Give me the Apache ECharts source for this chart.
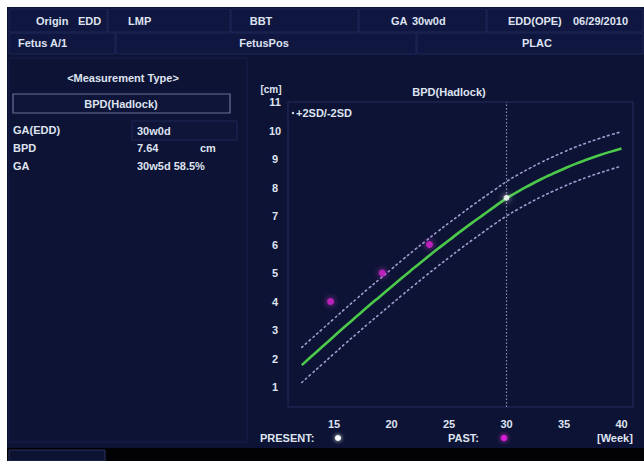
<!DOCTYPE html>
<html>
<head>
<meta charset="utf-8">
<script src="https://cdn.jsdelivr.net/npm/echarts@6/dist/echarts.min.js"></script>
<style>
html,body{margin:0;padding:0;background:#ffffff;}
#chart{width:644px;height:461px;}
</style>
</head>
<body>
<div id="chart"></div>
<script>
// ---- data ----
var weeks = [12.2,13,14,15,16,17,18,19,20,21,22,23,24,25,26,27,28,29,30,31,32,33,34,35,36,37,38,39,40];
var meanBPD = [1.77,2.06,2.42,2.78,3.14,3.49,3.84,4.18,4.52,4.86,5.19,5.52,5.84,6.15,6.46,6.76,7.05,7.34,7.62,7.86,8.08,8.29,8.48,8.66,8.83,8.98,9.12,9.25,9.37];
var plus2SD = [2.39,2.68,3.04,3.4,3.76,4.11,4.46,4.8,5.14,5.48,5.81,6.13,6.45,6.76,7.06,7.36,7.65,7.93,8.21,8.45,8.67,8.88,9.07,9.25,9.42,9.57,9.71,9.84,9.96];
var minus2SD = [1.16,1.45,1.81,2.17,2.53,2.88,3.23,3.57,3.91,4.25,4.58,4.91,5.23,5.54,5.85,6.15,6.44,6.73,7.0,7.24,7.46,7.67,7.86,8.04,8.21,8.36,8.5,8.63,8.75];
var pastWeeks = [14.7,19.2,23.3];
var pastBPD = [4.0,5.0,6.0];
var presentWeek = [30];
var presentBPD = [7.64];
var xTickLabels = [15,20,25,30,35,40];
var yTickLabels = [1,2,3,4,5,6,7,8,9,10,11];

function pairs(xs, ys){ var o=[]; for(var i=0;i<xs.length;i++){o.push([xs[i],ys[i]]);} return o; }

var FONT = 'Liberation Sans, Arial, sans-serif';
var TXT = '#dfe3f0';
var NAVY = '#0c1334';
var CELL = '#0f1740';
var EDGE = '#1f2858';

function txt(x,y,s,align,size){
  return {type:'text', x:x, y:y, silent:true, z:10,
    style:{text:s, fill:TXT, font:'bold '+(size||11)+'px '+FONT, textAlign:align||'left', textVerticalAlign:'middle'}};
}
function rect(x,y,w,h,fill,stroke,lw){
  return {type:'rect', shape:{x:x,y:y,width:w,height:h}, silent:true, z:1,
    style:{fill:fill, stroke:stroke||null, lineWidth:lw||1}};
}

var R1 = 21, R2 = 43;
var graphics = [
  // page frame
  rect(7,7,637,441,NAVY),
  rect(7,448,637,13,'#020205'),
  rect(9,450,96,11,'#0d1230','#2a3060'),
  // header row 1 cells
  rect(9,9,98,23,CELL,EDGE), rect(108,9,122,23,CELL,EDGE), rect(231,9,127,23,CELL,EDGE),
  rect(359,9,127,23,CELL,EDGE), rect(487,9,156,23,CELL,EDGE),
  // header row 2 cells
  rect(9,33,106,21,CELL,EDGE), rect(116,33,300,21,CELL,EDGE), rect(417,33,226,21,CELL,EDGE),
  // left panel
  rect(9,58,238,384,NAVY,'#18204c'),
  rect(13,94,217,19,'#0e1538','#6a7098',1.2),
  rect(132,121,105,19,'#0e1538','#1e2757'),
  // header texts
  txt(36,R1,'Origin'), txt(78,R1,'EDD'), txt(128,R1,'LMP'), txt(261,R1,'BBT','center'),
  txt(391,R1,'GA'), txt(412,R1,'30w0d'), txt(508,R1,'EDD(OPE)'), txt(573,R1,'06/29/2010'),
  txt(18,R2,'Fetus A/1'), txt(264,R2,'FetusPos','center'), txt(537,R2,'PLAC','center'),
  // left panel texts
  txt(123,78,'<Measurement Type>','center'),
  txt(121,103.5,'BPD(Hadlock)','center'),
  txt(13,130,'GA(EDD)'), txt(137,131,'30w0d'),
  txt(13,148,'BPD'), txt(137,148,'7.64'), txt(200,148,'cm'),
  txt(13,166,'GA'), txt(137,166,'30w5d 58.5%'),
  // chart texts
  txt(271,89,'[cm]','center',10),
  txt(449,92,'BPD(Hadlock)','center'),
  {type:'circle', shape:{cx:293,cy:113,r:1.2}, silent:true, z:10, style:{fill:TXT}},
  txt(296,113,'+2SD/-2SD'),
  txt(260,438,'PRESENT:'), txt(448,438,'PAST:'), txt(597,438,'[Week]'),
  {type:'circle', shape:{cx:338,cy:438,r:3}, silent:true, z:10, style:{fill:'#ffffff', shadowBlur:4, shadowColor:'#ffffff'}},
  {type:'circle', shape:{cx:504,cy:438,r:3.2}, silent:true, z:10, style:{fill:'#d61fcf', shadowBlur:5, shadowColor:'#e030e0'}}
];

var chart = echarts.init(document.getElementById('chart'), null, {renderer:'svg'});
chart.setOption({
  backgroundColor:'#ffffff',
  animation:false,
  graphic: {elements: graphics, z: 0, zlevel: 0},
  grid:{left:288, right:11, top:102, bottom:54, show:true, borderColor:'#242c5e', borderWidth:1, backgroundColor:NAVY, z:2},
  xAxis:{type:'value', min:11, max:41, z:20,
    axisLine:{show:false}, axisTick:{show:false}, splitLine:{show:false},
    axisLabel:{customValues:xTickLabels, color:TXT, fontWeight:'bold', fontSize:11, fontFamily:FONT, margin:11}},
  yAxis:{type:'value', min:0.3, max:11, z:20,
    axisLine:{show:false}, axisTick:{show:false}, splitLine:{show:false},
    axisLabel:{customValues:yTickLabels, color:TXT, fontWeight:'bold', fontSize:11, fontFamily:FONT, margin:13, align:'center'}},
  series:[
    {name:'+2SD', type:'line', data:pairs(weeks,plus2SD), smooth:true, symbol:'none', z:3,
      lineStyle:{color:'#a09ed2', width:1.6, type:[1.6,3.4], cap:'round'}},
    {name:'-2SD', type:'line', data:pairs(weeks,minus2SD), smooth:true, symbol:'none', z:3,
      lineStyle:{color:'#a09ed2', width:1.6, type:[1.6,3.4], cap:'round'}},
    {name:'Mean', type:'line', data:pairs(weeks,meanBPD), smooth:true, symbol:'none', z:4,
      lineStyle:{color:'#4cc94a', width:2.6}},
    {name:'Past', type:'scatter', data:pairs(pastWeeks,pastBPD), symbol:'circle', symbolSize:7, z:5,
      itemStyle:{color:'#d61fcf', shadowBlur:6, shadowColor:'#e040e0'}},
    {name:'Present', type:'scatter', data:pairs(presentWeek,presentBPD), symbol:'circle', symbolSize:6, z:6,
      itemStyle:{color:'#ffffff', shadowBlur:6, shadowColor:'#ffffff'},
      markLine:{silent:true, symbol:'none', label:{show:false},
        lineStyle:{color:'#8a90b0', width:1.2, type:[1.5,2]},
        data:[{xAxis:30}]}}
  ]
});
</script>
</body>
</html>
